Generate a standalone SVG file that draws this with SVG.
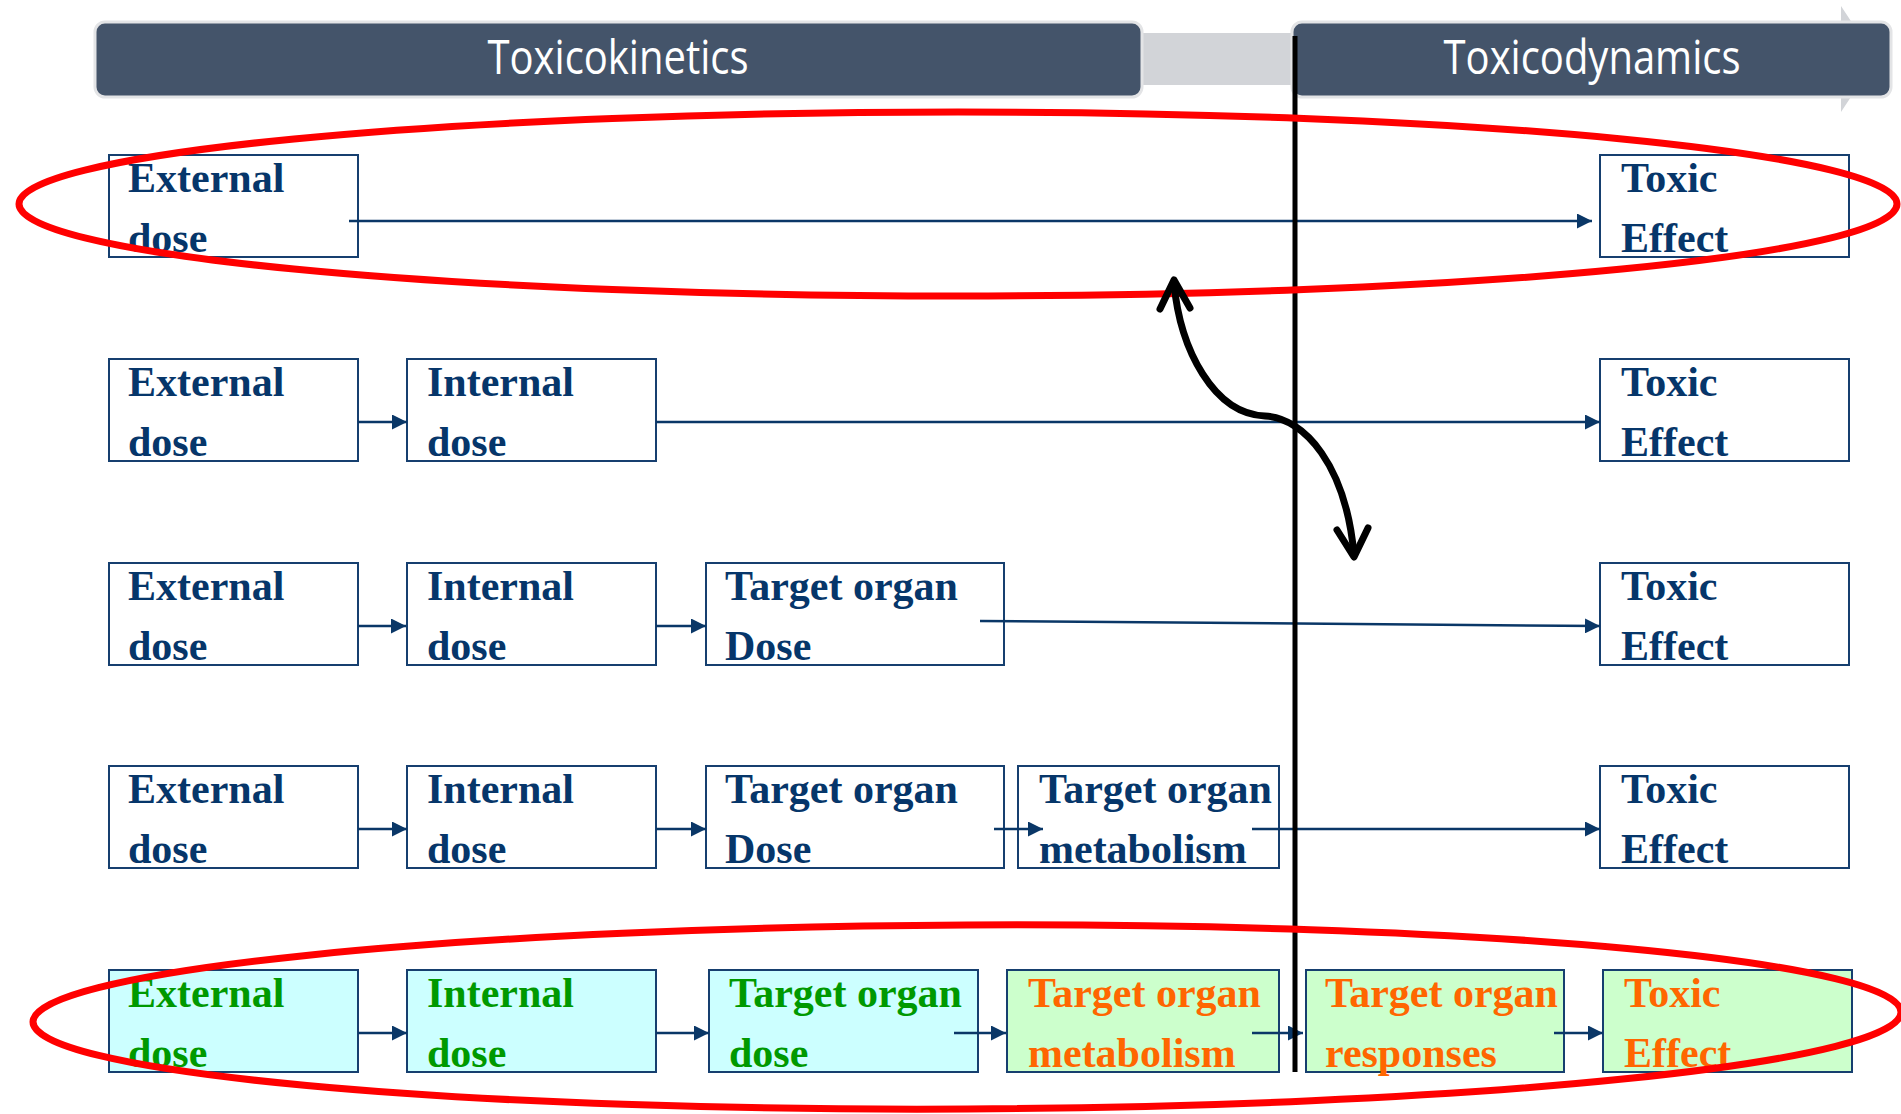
<svg xmlns="http://www.w3.org/2000/svg" width="1901" height="1114" viewBox="0 0 1901 1114">
  <defs>
    <marker id="tip" markerUnits="userSpaceOnUse" markerWidth="15" markerHeight="15" refX="15" refY="7.5" orient="auto">
      <path d="M0,0 L15,7.5 L0,15 Z" fill="#0a3767"/>
    </marker>
    <style>
      .bar { fill: #44546a; stroke: #e3e4e6; stroke-width: 3; }
      .head { fill: #ffffff; font-family: "Open Sans", "Noto Sans", sans-serif; font-size: 40px; text-anchor: middle; }
      .box { fill: #ffffff; stroke: #163f6f; stroke-width: 2; }
      .cyan { fill: #ccffff; }
      .mint { fill: #ccffcc; }
      .lbl { font-family: "Liberation Serif", "Times New Roman", serif; font-weight: bold; font-size: 42px; fill: #06366a; }
      .green { fill: #009900; }
      .orange { fill: #ff6600; }
      .link { fill: none; stroke: #0a3767; stroke-width: 2.5; marker-end: url(#tip); }
      .ring { fill: none; stroke: #ff0000; stroke-width: 7; }
      .divider { stroke: #000000; stroke-width: 5; }
      .swing { fill: none; stroke: #000000; stroke-width: 7; stroke-linecap: round; stroke-linejoin: round; }
    </style>
  </defs>

  <!-- phase banner -->
  <g id="banner">
    <path d="M1130,33 H1841 V6 L1876,59 L1841,112 V85 H1130 Z" fill="#d2d4d8"/>
    <g id="toxicokinetics">
      <rect class="bar" x="95" y="22" width="1047" height="75" rx="10"/>
      <text class="head" transform="translate(618,74) scale(1,1.2)">Toxicokinetics</text>
    </g>
    <g id="toxicodynamics">
      <rect class="bar" x="1292" y="22" width="599" height="75" rx="10"/>
      <text class="head" transform="translate(1592,74) scale(1,1.2)">Toxicodynamics</text>
    </g>
  </g>

  <!-- row 1 -->
  <g id="r1-external"><rect class="box" x="109" y="155" width="249" height="102"/><text class="lbl" x="128" y="192">External</text><text class="lbl" x="128" y="252">dose</text></g>
  <g id="r1-toxic"><rect class="box" x="1600" y="155" width="249" height="102"/><text class="lbl" x="1621" y="192">Toxic</text><text class="lbl" x="1621" y="252">Effect</text></g>

  <!-- row 2 -->
  <g id="r2-external"><rect class="box" x="109" y="359" width="249" height="102"/><text class="lbl" x="128" y="396">External</text><text class="lbl" x="128" y="456">dose</text></g>
  <g id="r2-internal"><rect class="box" x="407" y="359" width="249" height="102"/><text class="lbl" x="427" y="396">Internal</text><text class="lbl" x="427" y="456">dose</text></g>
  <g id="r2-toxic"><rect class="box" x="1600" y="359" width="249" height="102"/><text class="lbl" x="1621" y="396">Toxic</text><text class="lbl" x="1621" y="456">Effect</text></g>

  <!-- row 3 -->
  <g id="r3-external"><rect class="box" x="109" y="563" width="249" height="102"/><text class="lbl" x="128" y="600">External</text><text class="lbl" x="128" y="660">dose</text></g>
  <g id="r3-internal"><rect class="box" x="407" y="563" width="249" height="102"/><text class="lbl" x="427" y="600">Internal</text><text class="lbl" x="427" y="660">dose</text></g>
  <g id="r3-target"><rect class="box" x="706" y="563" width="298" height="102"/><text class="lbl" x="725" y="600">Target organ</text><text class="lbl" x="725" y="660">Dose</text></g>
  <g id="r3-toxic"><rect class="box" x="1600" y="563" width="249" height="102"/><text class="lbl" x="1621" y="600">Toxic</text><text class="lbl" x="1621" y="660">Effect</text></g>

  <!-- row 4 -->
  <g id="r4-external"><rect class="box" x="109" y="766" width="249" height="102"/><text class="lbl" x="128" y="803">External</text><text class="lbl" x="128" y="863">dose</text></g>
  <g id="r4-internal"><rect class="box" x="407" y="766" width="249" height="102"/><text class="lbl" x="427" y="803">Internal</text><text class="lbl" x="427" y="863">dose</text></g>
  <g id="r4-target"><rect class="box" x="706" y="766" width="298" height="102"/><text class="lbl" x="725" y="803">Target organ</text><text class="lbl" x="725" y="863">Dose</text></g>
  <g id="r4-metabolism"><rect class="box" x="1018" y="766" width="261" height="102"/><text class="lbl" x="1039" y="803">Target organ</text><text class="lbl" x="1039" y="863">metabolism</text></g>
  <g id="r4-toxic"><rect class="box" x="1600" y="766" width="249" height="102"/><text class="lbl" x="1621" y="803">Toxic</text><text class="lbl" x="1621" y="863">Effect</text></g>

  <!-- row 5 -->
  <g id="r5-external"><rect class="box cyan" x="109" y="970" width="249" height="102"/><text class="lbl green" x="128" y="1007">External</text><text class="lbl green" x="128" y="1067">dose</text></g>
  <g id="r5-internal"><rect class="box cyan" x="407" y="970" width="249" height="102"/><text class="lbl green" x="427" y="1007">Internal</text><text class="lbl green" x="427" y="1067">dose</text></g>
  <g id="r5-target"><rect class="box cyan" x="709" y="970" width="269" height="102"/><text class="lbl green" x="729" y="1007">Target organ</text><text class="lbl green" x="729" y="1067">dose</text></g>
  <g id="r5-metabolism"><rect class="box mint" x="1007" y="970" width="272" height="102"/><text class="lbl orange" x="1028" y="1007">Target organ</text><text class="lbl orange" x="1028" y="1067">metabolism</text></g>
  <g id="r5-responses"><rect class="box mint" x="1306" y="970" width="258" height="102"/><text class="lbl orange" x="1325" y="1007">Target organ</text><text class="lbl orange" x="1325" y="1067">responses</text></g>
  <g id="r5-toxic"><rect class="box mint" x="1603" y="970" width="249" height="102"/><text class="lbl orange" x="1624" y="1007">Toxic</text><text class="lbl orange" x="1624" y="1067">Effect</text></g>

  <!-- connectors -->
  <g id="connectors">
    <path class="link" d="M349,221 H1592"/>
    <path class="link" d="M358,422 H407"/>
    <path class="link" d="M656,422 H1600"/>
    <path class="link" d="M358,626 H406"/>
    <path class="link" d="M656,626 H706"/>
    <path class="link" d="M980,621 L1600,626"/>
    <path class="link" d="M358,829 H407"/>
    <path class="link" d="M656,829 H706"/>
    <path class="link" d="M994,829 H1043"/>
    <path class="link" d="M1252,829 H1600"/>
    <path class="link" d="M358,1033 H407"/>
    <path class="link" d="M656,1033 H709"/>
    <path class="link" d="M954,1033 H1006"/>
    <path class="link" d="M1252,1033 H1303"/>
    <path class="link" d="M1554,1033 H1603"/>
  </g>

  <!-- kinetics / dynamics divide -->
  <line class="divider" x1="1295" y1="36" x2="1295" y2="1072"/>

  <!-- highlight rings -->
  <ellipse class="ring" cx="958" cy="204" rx="939" ry="92"/>
  <ellipse class="ring" cx="967" cy="1017" rx="934" ry="92" transform="rotate(-0.3 967 1017)"/>

  <!-- two-way swing arrow -->
  <g id="swing">
    <path class="swing" d="M1174,283 C1180,350 1214,414 1265,416 C1305,418 1346,466 1354,555"/>
    <path class="swing" d="M1160,309 L1174,280 L1190,308"/>
    <path class="swing" d="M1337,530 L1354,557 L1368,528"/>
  </g>
</svg>
